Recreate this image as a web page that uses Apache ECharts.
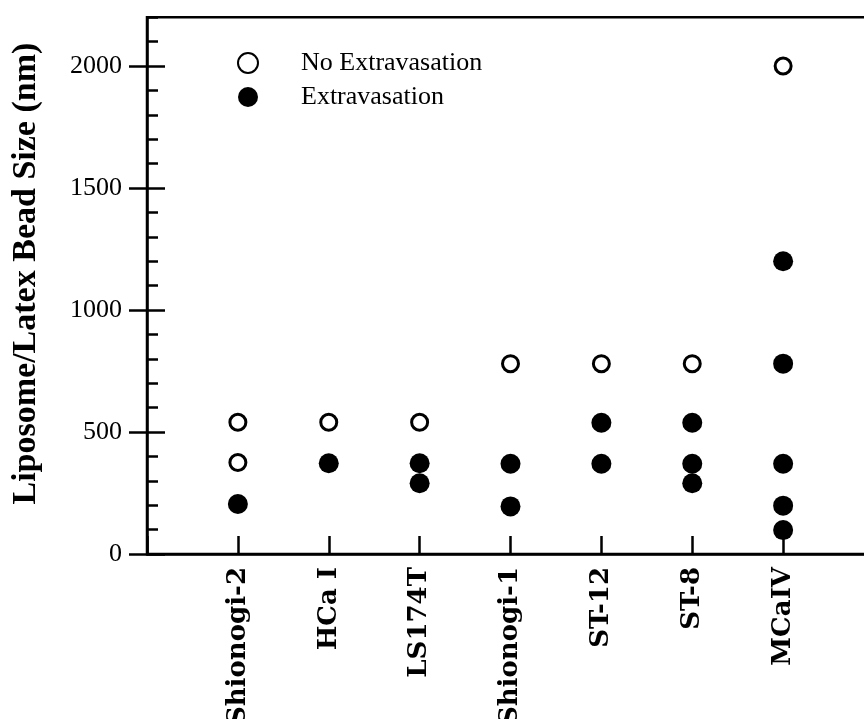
<!DOCTYPE html>
<html>
<head>
<meta charset="utf-8">
<script src="https://cdn.jsdelivr.net/npm/echarts@6/dist/echarts.min.js"></script>
<style>html,body{margin:0;padding:0;background:#fff;}#c{width:864px;height:719px;}</style>
</head>
<body>
<div id="c"></div>
<script>
// Tumor models (x positions 1..7)
const categories = ['Shionogi-2', 'HCa I', 'LS174T', 'Shionogi-1', 'ST-12', 'ST-8', 'MCaIV'];
// Particle sizes (nm) that did NOT extravasate, per tumor
const noExtravasation = [
  [540, 375],   // Shionogi-2
  [540],        // HCa I
  [540],        // LS174T
  [780],        // Shionogi-1
  [780],        // ST-12
  [780],        // ST-8
  [2000]        // MCaIV
];
// Particle sizes (nm) that DID extravasate, per tumor
const extravasation = [
  [205],                    // Shionogi-2
  [372],                    // HCa I
  [372, 290],               // LS174T
  [370, 195],               // Shionogi-1
  [538, 370],               // ST-12
  [538, 370, 290],          // ST-8
  [1200, 780, 370, 198, 98] // MCaIV
];
const yTicks = [0, 500, 1000, 1500, 2000];

function toPoints(arr) {
  const out = [];
  arr.forEach((vals, i) => vals.forEach(v => out.push([i + 1, v])));
  return out;
}

const serif = 'Liberation Serif, Times New Roman, serif';
const K = 0.244; // px per nm
const bottomPx = 554;
const plotWidth = 727;

const chart = echarts.init(document.getElementById('c'));
chart.setOption({
  backgroundColor: '#fff',
  animation: false,
  legend: {
    orient: 'vertical',
    left: 232,
    top: 45,
    itemWidth: 96,
    itemHeight: 20,
    itemGap: 8,
    textStyle: { fontFamily: serif, fontSize: 26, color: '#000' },
    data: ['No Extravasation', 'Extravasation']
  },
  grid: [
    { left: 147, width: plotWidth, top: bottomPx - 2200 * K, bottom: 719 - bottomPx,
      outerBoundsMode: 'none', containLabel: false,
      show: true, borderColor: '#000', borderWidth: 2.5, backgroundColor: 'transparent' },
    { left: 147, width: plotWidth, top: bottomPx - 2000 * K, bottom: 719 - bottomPx,
      outerBoundsMode: 'none', containLabel: false }
  ],
  xAxis: [
    {
      gridIndex: 0, type: 'value', min: 0, max: 8, interval: 1,
      axisLine: { show: true, lineStyle: { color: '#000', width: 2.5 } },
      axisTick: { show: true, inside: true, length: 18, lineStyle: { color: '#000', width: 2.5 } },
      splitLine: { show: false },
      axisLabel: {
        rotate: 90, margin: 13, color: '#000',
        fontFamily: 'DejaVu Serif, serif', fontWeight: 'bold', fontSize: 26,
        formatter: v => categories[v - 1] || ''
      }
    },
    { gridIndex: 1, type: 'value', min: 0, max: 8, show: false }
  ],
  yAxis: [
    {
      gridIndex: 0, type: 'value', position: 'left', min: 0, max: 2200, interval: 100,
      name: 'Liposome/Latex Bead Size (nm)', nameLocation: 'middle', nameGap: 104,
      nameTextStyle: { fontFamily: serif, fontWeight: 'bold', fontSize: 34, color: '#000', padding: [0, 0, 0, 24] },
      axisLine: { show: true, lineStyle: { color: '#000', width: 2.5 } },
      axisTick: { show: true, inside: true, length: 11, lineStyle: { color: '#000', width: 2.5 } },
      axisLabel: { show: false },
      splitLine: { show: false }
    },
    {
      gridIndex: 1, type: 'value', position: 'left', min: yTicks[0], max: yTicks[yTicks.length - 1], interval: 500,
      axisLine: { show: false },
      axisTick: { show: true, inside: false, length: 18, lineStyle: { color: '#000', width: 2.5 } },
      axisLabel: { show: true, margin: 25, color: '#000', fontFamily: serif, fontSize: 26,
        formatter: v => String(v) },
      splitLine: { show: false }
    },
    {
      gridIndex: 1, type: 'value', position: 'left', offset: 0, min: yTicks[0], max: yTicks[yTicks.length - 1], interval: 500,
      axisLine: { show: false },
      axisTick: { show: true, inside: true, length: 18, lineStyle: { color: '#000', width: 2.5 } },
      axisLabel: { show: false },
      splitLine: { show: false }
    }
  ],
  series: [
    {
      name: 'No Extravasation', type: 'scatter', xAxisIndex: 0, yAxisIndex: 0,
      symbol: 'circle', symbolSize: 16,
      itemStyle: { color: '#fff', borderColor: '#000', borderWidth: 3, opacity: 1 },
      data: toPoints(noExtravasation), z: 3
    },
    {
      name: 'Extravasation', type: 'scatter', xAxisIndex: 0, yAxisIndex: 0,
      symbol: 'circle', symbolSize: 20,
      itemStyle: { color: '#000', opacity: 1 },
      data: toPoints(extravasation), z: 4
    }
  ]
});
</script>
</body>
</html>
